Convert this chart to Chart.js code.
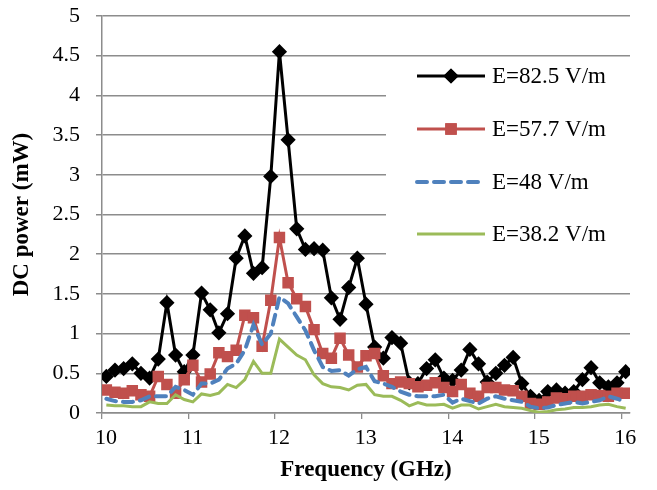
<!DOCTYPE html>
<html>
<head>
<meta charset="utf-8">
<script src="https://cdn.jsdelivr.net/npm/chart.js@4.4.1/dist/chart.umd.min.js"></script>
<style>
  html, body { margin: 0; padding: 0; background: #fff; }
  #wrap { width: 657px; height: 490px; }
</style>
</head>
<body>
<div id="wrap"><canvas id="powerChart"></canvas></div>
<script>
// frequency points (GHz)
let freq = [10.05, 10.15, 10.25, 10.35, 10.45, 10.55, 10.65, 10.75, 10.85, 10.95,
            11.05, 11.15, 11.25, 11.35, 11.45, 11.55, 11.65, 11.75, 11.85, 11.95,
            12.05, 12.15, 12.25, 12.35, 12.45, 12.55, 12.65, 12.75, 12.85, 12.95,
            13.05, 13.15, 13.25, 13.35, 13.45, 13.55, 13.65, 13.75, 13.85, 13.95,
            14.05, 14.15, 14.25, 14.35, 14.45, 14.55, 14.65, 14.75, 14.85, 14.95,
            15.05, 15.15, 15.25, 15.35, 15.45, 15.55, 15.65, 15.75, 15.85, 15.95,
            16.05];

// DC power (mW)
let e825 = [0.46, 0.54, 0.56, 0.62, 0.50, 0.44, 0.68, 1.39, 0.73, 0.52,
            0.73, 1.51, 1.30, 1.01, 1.25, 1.95, 2.23, 1.76, 1.83, 2.98,
            4.55, 3.44, 2.32, 2.06, 2.07, 2.05, 1.45, 1.18, 1.58, 1.95,
            1.37, 0.83, 0.69, 0.95, 0.88, 0.38, 0.37, 0.56, 0.67, 0.44,
            0.41, 0.54, 0.80, 0.62, 0.39, 0.50, 0.60, 0.70, 0.37, 0.21,
            0.16, 0.27, 0.29, 0.25, 0.27, 0.42, 0.57, 0.38, 0.33, 0.38,
            0.52];
let e577 = [0.29, 0.26, 0.25, 0.28, 0.23, 0.21, 0.46, 0.36, 0.25, 0.42,
            0.60, 0.39, 0.49, 0.76, 0.71, 0.79, 1.23, 1.20, 0.84, 1.42,
            2.21, 1.64, 1.44, 1.34, 1.05, 0.75, 0.69, 0.94, 0.73, 0.58,
            0.72, 0.75, 0.47, 0.37, 0.39, 0.37, 0.33, 0.35, 0.38, 0.32,
            0.27, 0.36, 0.25, 0.21, 0.32, 0.32, 0.29, 0.28, 0.21, 0.12,
            0.11, 0.14, 0.19, 0.18, 0.21, 0.21, 0.23, 0.22, 0.21, 0.25,
            0.25];
let e48 = [0.18, 0.15, 0.14, 0.14, 0.16, 0.21, 0.21, 0.21, 0.33, 0.29,
           0.23, 0.37, 0.37, 0.42, 0.56, 0.62, 0.79, 1.11, 0.86, 1.00,
           1.46, 1.38, 1.21, 1.04, 0.79, 0.58, 0.53, 0.54, 0.47, 0.55,
           0.58, 0.40, 0.37, 0.33, 0.27, 0.23, 0.21, 0.21, 0.21, 0.23,
           0.13, 0.18, 0.15, 0.12, 0.18, 0.21, 0.18, 0.16, 0.14, 0.08,
           0.06, 0.07, 0.10, 0.12, 0.14, 0.12, 0.14, 0.16, 0.21, 0.18,
           0.14];
let e382 = [0.10, 0.09, 0.09, 0.08, 0.08, 0.14, 0.12, 0.12, 0.23, 0.17,
            0.14, 0.24, 0.22, 0.25, 0.36, 0.32, 0.42, 0.65, 0.50, 0.50,
            0.93, 0.83, 0.73, 0.67, 0.48, 0.37, 0.33, 0.32, 0.29, 0.35,
            0.36, 0.23, 0.21, 0.21, 0.16, 0.09, 0.13, 0.10, 0.10, 0.11,
            0.06, 0.10, 0.10, 0.05, 0.08, 0.11, 0.08, 0.07, 0.06, 0.03,
            0.01, 0.02, 0.04, 0.05, 0.07, 0.07, 0.08, 0.10, 0.11, 0.08,
            0.06];

let seriesNames = ['E=82.5 V/m', 'E=57.7 V/m', 'E=48 V/m', 'E=38.2 V/m'];
let xTicks = [10, 11, 12, 13, 14, 15, 16];
let yTicks = [0, 0.5, 1, 1.5, 2, 2.5, 3, 3.5, 4, 4.5, 5];

const FONT = 'Liberation Serif';
const GRID = '#8c8c8c';

function pts(vals){
    return freq.map((f, i) => ({x: f, y: vals[i]}));
}

// legend drawn inside the plot area, like the original
const insideLegend = {
    id: 'insideLegend',
    beforeDatasetsDraw(chart){
        const ctx = chart.ctx;
        ctx.save();
        ctx.fillStyle = '#fff';
        ctx.fillRect(386, 58, 250, 204);
        const rows = [76, 129, 182, 234];
        chart.data.datasets.forEach(ds => {
            const y = rows[seriesNames.indexOf(ds.label)];
            ctx.beginPath();
            ctx.strokeStyle = ds.borderColor;
            ctx.lineWidth = ds.borderWidth;
            ctx.lineCap = ds.borderDash ? 'round' : 'butt';
            ctx.setLineDash(ds.borderDash || []);
            ctx.moveTo(417, y);
            ctx.lineTo(485, y);
            ctx.stroke();
            ctx.setLineDash([]);
            if (ds.pointRadius > 0) {
                Chart.helpers.drawPoint(ctx, {
                    pointStyle: ds.pointStyle, radius: ds.pointRadius, borderWidth: 1
                }, 451, y);
                ctx.fillStyle = ds.pointBackgroundColor;
                ctx.strokeStyle = ds.pointBorderColor;
                ctx.fill();
                ctx.stroke();
            }
            ctx.fillStyle = '#000';
            ctx.font = '23px "' + FONT + '"';
            ctx.textBaseline = 'middle';
            ctx.textAlign = 'left';
            ctx.fillText(ds.label, 492, y + 1);
        });
        ctx.restore();
    }
};

const ctx = document.getElementById('powerChart').getContext('2d');
window.powerChart = new Chart(ctx, {
    type: 'line',
    data: {
        // drawn back to front: green first, black last
        datasets: [{
            label: seriesNames[3],
            data: pts(e382),
            borderColor: '#9BBB59',
            borderWidth: 3,
            pointRadius: 0,
            tension: 0
        }, {
            label: seriesNames[2],
            data: pts(e48),
            borderColor: '#4F81BD',
            borderWidth: 4,
            borderDash: [10, 7],
            borderCapStyle: 'round',
            pointRadius: 0,
            tension: 0
        }, {
            label: seriesNames[1],
            data: pts(e577),
            borderColor: '#C0504D',
            borderWidth: 3,
            pointStyle: 'rect',
            pointRadius: 6,
            pointBackgroundColor: '#C0504D',
            pointBorderColor: '#C0504D',
            tension: 0
        }, {
            label: seriesNames[0],
            data: pts(e825),
            borderColor: '#000000',
            borderWidth: 3,
            pointStyle: 'rectRot',
            pointRadius: 5.5,
            pointBackgroundColor: '#000000',
            pointBorderColor: '#000000',
            tension: 0
        }]
    },
    options: {
        responsive: true,
        maintainAspectRatio: false,
        animation: false,
        layout: { padding: { top: 16, right: 27, left: 0, bottom: 0 } },
        plugins: {
            legend: { display: false },
            tooltip: { enabled: false }
        },
        scales: {
            x: {
                type: 'linear',
                min: 10,
                max: 16.1,
                afterBuildTicks: s => { s.ticks = xTicks.map(v => ({value: v})); },
                afterFit: s => { s.height = 77; },
                grid: { drawOnChartArea: false, drawTicks: true, tickLength: 6, color: GRID, lineWidth: 1.3 },
                border: { color: GRID, width: 1.5 },
                ticks: { color: '#000', padding: 6, labelOffset: 4, font: { family: FONT, size: 22 } },
                title: {
                    display: true,
                    text: 'Frequency (GHz)',
                    color: '#000',
                    font: { family: FONT, size: 23, weight: 'bold' },
                    padding: { top: 0, bottom: 6 }
                }
            },
            y: {
                min: 0,
                max: 5,
                afterBuildTicks: s => { s.ticks = yTicks.map(v => ({value: v})); },
                afterFit: s => { s.width = 102; s.paddingTop = 0; s.paddingBottom = 0; },
                grid: { color: GRID, lineWidth: 1.5, tickLength: 6 },
                border: { color: GRID, width: 1.5 },
                ticks: { color: '#000', padding: 16, font: { family: FONT, size: 22 },
                         callback: v => String(v) },
                title: {
                    display: true,
                    text: 'DC power (mW)',
                    color: '#000',
                    font: { family: FONT, size: 23, weight: 'bold' },
                    padding: { top: 8, bottom: 0 }
                }
            }
        }
    },
    plugins: [insideLegend]
});
</script>
</body>
</html>
